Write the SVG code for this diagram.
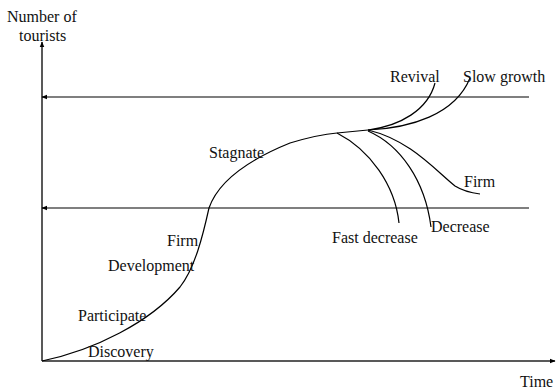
<svg xmlns="http://www.w3.org/2000/svg" width="556" height="390" viewBox="0 0 556 390">
<style>
.ln{stroke:#000;stroke-width:1.2;fill:none}
.ax{stroke:#222;stroke-width:1.5;fill:none}
.t{font-family:"Liberation Serif","Times New Roman",serif;font-size:16px;fill:#111}
</style>
<defs>
<marker id="ah" viewBox="0 0 10 10" refX="9" refY="5" markerWidth="6" markerHeight="6" orient="auto" markerUnits="userSpaceOnUse">
<path d="M0,1 L10,5 L0,9 Z" fill="#000"/>
</marker>
</defs>
<g id="axes">
<line class="ax" x1="42" y1="361" x2="42" y2="42" marker-end="url(#ah)"/>
<line class="ax" x1="42" y1="361" x2="555" y2="361" marker-end="url(#ah)"/>
</g>
<g id="levels">
<line class="ln" x1="529" y1="97" x2="42" y2="97" marker-end="url(#ah)"/>
<line class="ln" x1="529" y1="208" x2="42" y2="208" marker-end="url(#ah)"/>
</g>
<g id="curves">
<path class="ln" d="M42,361 C95,350 150,322 180,287 C195,268 203,235 209,208 C218,182 248,160 290,143 C310,137 325,134 337,133 L368,130"/>
<path class="ln" d="M337,133 C370,150 395,185 399,223"/>
<path class="ln" d="M368,131 C400,145 425,180 431,227"/>
<path class="ln" d="M368,130 C410,140 435,170 455,186 C463,191 472,193 480,194"/>
<path class="ln" d="M368,130 C400,126 428,110 435,83"/>
<path class="ln" d="M368,130 C410,128 455,115 470,78"/>
</g>
<g id="labels">
<text class="t" x="7" y="22">Number of</text>
<text class="t" x="19" y="41">tourists</text>
<text class="t" x="520" y="387">Time</text>
<text class="t" x="390" y="82">Revival</text>
<text class="t" x="463" y="82">Slow growth</text>
<text class="t" x="209" y="158">Stagnate</text>
<text class="t" x="464" y="187">Firm</text>
<text class="t" x="431" y="232">Decrease</text>
<text class="t" x="332" y="243">Fast decrease</text>
<text class="t" x="167" y="246">Firm</text>
<text class="t" x="108" y="271">Development</text>
<text class="t" x="78" y="321">Participate</text>
<text class="t" x="88" y="357">Discovery</text>
</g>
</svg>
